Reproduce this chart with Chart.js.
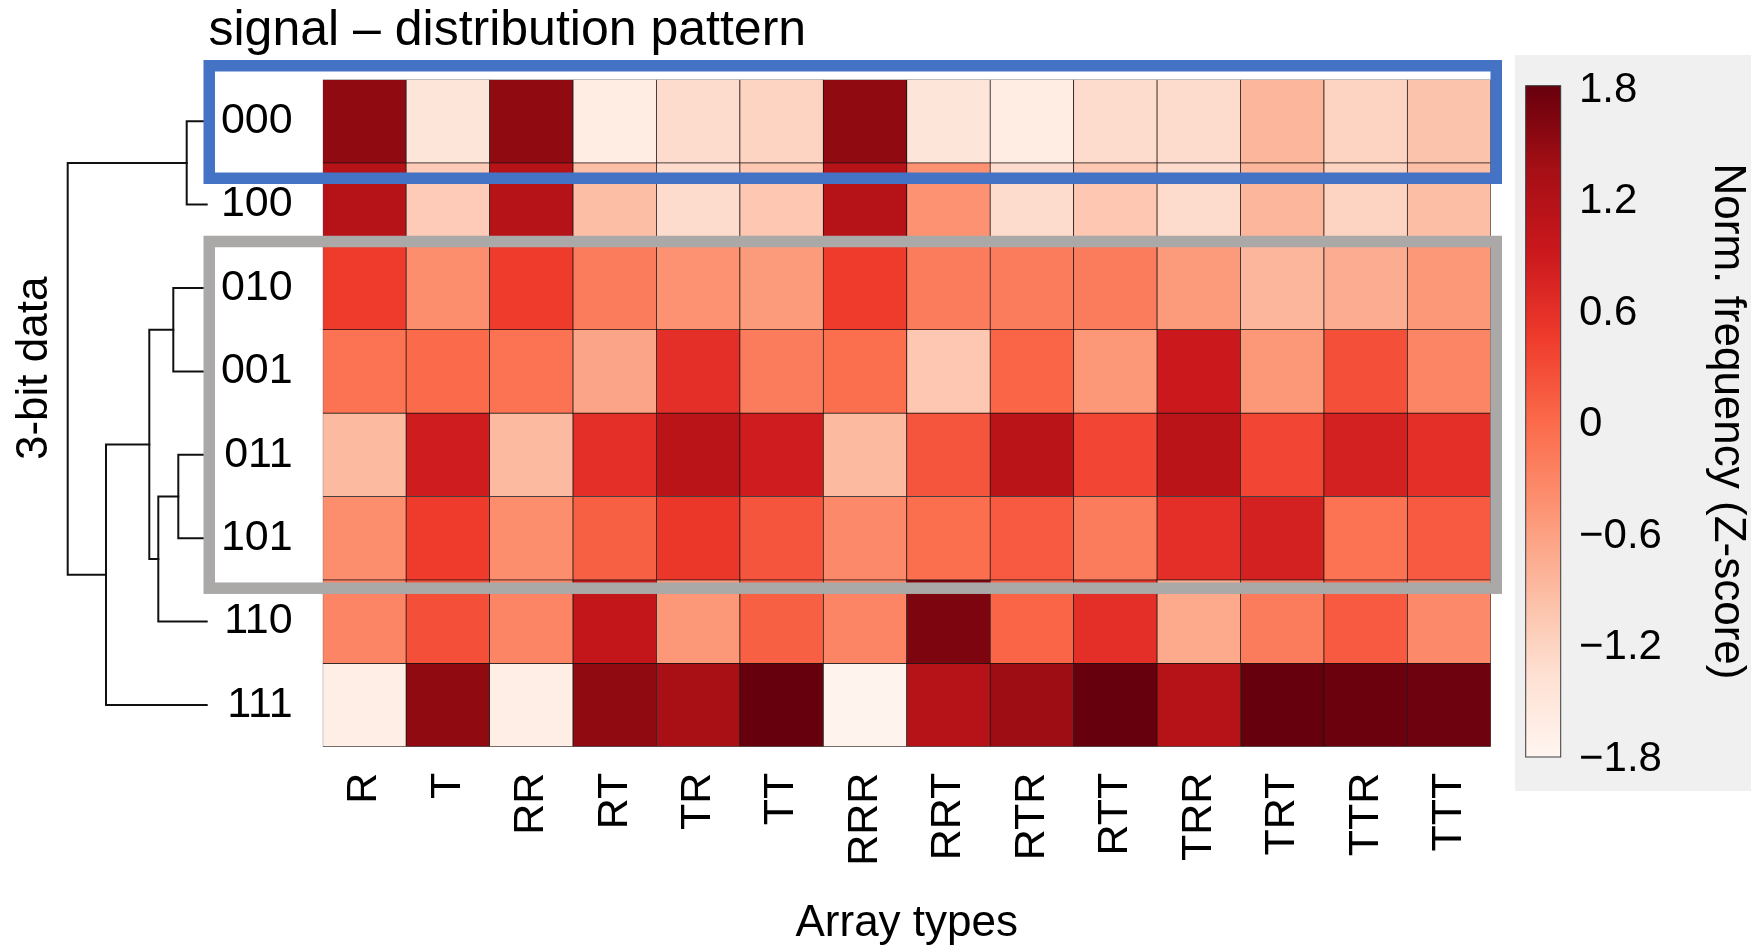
<!DOCTYPE html>
<html>
<head>
<meta charset="utf-8">
<title>signal – distribution pattern</title>
<script src="https://cdn.jsdelivr.net/npm/chart.js@4.4.1/dist/chart.umd.min.js"></script>
<style>
  html, body { margin: 0; padding: 0; background: #ffffff; }
  #wrap { position: relative; width: 1751px; height: 946px; }
</style>
</head>
<body>
<div id="wrap"><canvas id="heatmap"></canvas></div>
<script>
// Categories
const arrayTypes = ['R', 'T', 'RR', 'RT', 'TR', 'TT', 'RRR', 'RRT', 'RTR', 'RTT', 'TRR', 'TRT', 'TTR', 'TTT'];
const bitRows = ['000', '100', '010', '001', '011', '101', '110', '111'];

// Norm. frequency (Z-score), one array per 3-bit row, columns follow arrayTypes
const z000 = [1.5, -1.45, 1.5, -1.6, -1.3, -1.2, 1.5, -1.45, -1.6, -1.3, -1.3, -0.85, -1.2, -1.0];
const z100 = [1.15, -1.1, 1.15, -0.95, -1.3, -1.05, 1.15, -0.45, -1.3, -1.05, -1.3, -0.85, -1.2, -0.95];
const z010 = [0.45, -0.4, 0.45, -0.2, -0.45, -0.55, 0.45, -0.2, -0.2, -0.2, -0.55, -0.85, -0.75, -0.5];
const z001 = [-0.1, 0.0, -0.1, -0.65, 0.6, -0.2, -0.05, -1.05, 0.05, -0.5, 0.9, -0.5, 0.25, -0.3];
const z011 = [-0.9, 0.85, -0.9, 0.6, 1.1, 0.85, -0.9, 0.2, 1.1, 0.35, 1.1, 0.35, 0.8, 0.6];
const z101 = [-0.4, 0.45, -0.4, 0.1, 0.5, 0.2, -0.35, -0.05, 0.15, -0.2, 0.6, 0.8, -0.1, 0.15];
const z110 = [-0.3, 0.25, -0.3, 1.0, -0.5, 0.1, -0.3, 1.65, 0.05, 0.6, -0.7, -0.2, 0.15, -0.35];
const z111 = [-1.65, 1.5, -1.65, 1.5, 1.3, 1.8, -1.75, 1.15, 1.4, 1.8, 1.15, 1.8, 1.78, 1.75];
const zRows = [z000, z100, z010, z001, z011, z101, z110, z111];

// Row dendrogram, hclust style: negative = leaf (1-based row), positive = earlier merge
const mergeLeft = [-1, -5, -3, 2, 3, 5, 1];
const mergeRight = [-2, -6, -4, -7, 4, -8, 6];
const mergeHeight = [0.20, 0.284, 0.334, 0.484, 0.574, 1.007, 1.39];

// Colour bar ticks
const colorbarTicks = [1.8, 1.2, 0.6, 0, -0.6, -1.2, -1.8];

const FONT = '"Liberation Sans", Arial, Helvetica, sans-serif';
const Z_MIN = Math.min(...colorbarTicks);
const Z_MAX = Math.max(...colorbarTicks);

// ColorBrewer Reds
const REDS = ['#fff5f0', '#fee0d2', '#fcbba1', '#fc9272', '#fb6a4a', '#ef3b2c', '#cb181d', '#a50f15', '#67000d'];

function hexToRgb(hex) {
  const n = parseInt(hex.slice(1), 16);
  return [(n >> 16) & 255, (n >> 8) & 255, n & 255];
}

function zColor(v) {
  const t = Math.min(1, Math.max(0, (v - Z_MIN) / (Z_MAX - Z_MIN))) * (REDS.length - 1);
  const i = Math.min(REDS.length - 2, Math.floor(t));
  const f = t - i;
  const a = hexToRgb(REDS[i]);
  const b = hexToRgb(REDS[i + 1]);
  const c = a.map((x, k) => Math.round(x + (b[k] - x) * f));
  return 'rgb(' + c.join(',') + ')';
}

function fmtTick(v) {
  return v < 0 ? '\u2212' + Math.abs(v) : String(v);
}

// tree sits left of the row labels: leaf tips at x=206.7, 100px per unit of height
const DEND_TIP_X = 206.7;
const DEND_PX_PER_UNIT = 100;

// highlight frames drawn over the heatmap (rows are [first, end) indexes)
const highlightBoxes = [
  { rows: [0, 1], color: '#4472c4', padTop: 13.75, padBottom: 15.35 },
  { rows: [2, 6], color: '#aba8a8', padTop: 4.8, padBottom: 8.3 }
];

const decorations = {
  id: 'decorations',
  afterDatasetsDraw(chart) {
    const { ctx, chartArea } = chart;
    const yS = chart.scales.y;
    const hx = h => DEND_TIP_X - h * DEND_PX_PER_UNIT;

    // dendrogram
    const nodes = [];
    const nodeAt = id => id < 0 ? { y: yS.getPixelForValue(-id - 0.5), h: 0 } : nodes[id - 1];
    ctx.save();
    ctx.strokeStyle = '#111';
    ctx.lineWidth = 2;
    ctx.lineCap = 'square';
    mergeHeight.forEach((h, m) => {
      const a = nodeAt(mergeLeft[m]);
      const b = nodeAt(mergeRight[m]);
      const x = hx(h);
      ctx.beginPath();
      ctx.moveTo(hx(a.h), a.y);
      ctx.lineTo(x, a.y);
      ctx.lineTo(x, b.y);
      ctx.lineTo(hx(b.h), b.y);
      ctx.stroke();
      nodes.push({ y: (a.y + b.y) / 2, h: h });
    });

    // highlight frames
    ctx.lineWidth = 11.5;
    ctx.lineCap = 'butt';
    ctx.lineJoin = 'miter';
    highlightBoxes.forEach(bx => {
      const top = yS.getPixelForValue(bx.rows[0]) - bx.padTop;
      const bottom = yS.getPixelForValue(bx.rows[1]) + bx.padBottom;
      const left = 209.25;
      const right = chartArea.right + 5.45;
      ctx.strokeStyle = bx.color;
      ctx.strokeRect(left, top, right - left, bottom - top);
    });
    ctx.restore();
  },
  afterDraw(chart) {
    const { ctx } = chart;
    ctx.save();
    ctx.fillStyle = '#000';

    // title
    ctx.font = '50px ' + FONT;
    ctx.textAlign = 'left';
    ctx.textBaseline = 'alphabetic';
    ctx.fillText('signal \u2013 distribution pattern', 208.5, 45);

    // row axis title
    ctx.save();
    ctx.translate(35, 368.3);
    ctx.rotate(-Math.PI / 2);
    ctx.font = '44px ' + FONT;
    ctx.textAlign = 'center';
    ctx.textBaseline = 'middle';
    ctx.fillText('3-bit data', 0, 0);
    ctx.restore();

    // colour bar panel
    ctx.fillStyle = '#f0f0f0';
    ctx.fillRect(1515, 55, 236, 736);

    const barX = 1525.7, barW = 35, barTop = 85.7, barBottom = 757;
    const grad = ctx.createLinearGradient(0, barBottom, 0, barTop);
    REDS.forEach((c, i) => grad.addColorStop(i / (REDS.length - 1), c));
    ctx.fillStyle = grad;
    ctx.fillRect(barX, barTop, barW, barBottom - barTop);
    ctx.strokeStyle = '#3a3a3a';
    ctx.lineWidth = 1;
    ctx.strokeRect(barX, barTop, barW, barBottom - barTop);

    ctx.fillStyle = '#000';
    ctx.font = '42px ' + FONT;
    ctx.textAlign = 'left';
    ctx.textBaseline = 'middle';
    colorbarTicks.forEach(v => {
      const y = 90 + (Z_MAX - v) / (Z_MAX - Z_MIN) * 669;
      ctx.fillText(fmtTick(v), 1579, y);
    });

    ctx.translate(1727, 421.5);
    ctx.rotate(Math.PI / 2);
    ctx.font = '44px ' + FONT;
    ctx.textAlign = 'center';
    ctx.fillText('Norm. frequency (Z-score)', 0, 0);
    ctx.restore();
  }
};

Chart.defaults.font.family = FONT;
Chart.defaults.color = '#000';

const datasets = zRows.map((vals, r) => ({
  label: bitRows[r],
  data: vals.map(() => [r, r + 1]),
  backgroundColor: vals.map(zColor),
  borderColor: '#1e1414',
  borderWidth: 0.75,
  borderSkipped: false,
  barPercentage: 1,
  categoryPercentage: 1,
  grouped: false
}));

new Chart(document.getElementById('heatmap'), {
  type: 'bar',
  data: { labels: arrayTypes, datasets: datasets },
  options: {
    responsive: true,
    maintainAspectRatio: false,
    animation: false,
    layout: { padding: { top: 79.5, right: 260.2, bottom: 0, left: 0 } },
    plugins: {
      legend: { display: false },
      tooltip: { enabled: false }
    },
    scales: {
      x: {
        type: 'category',
        grid: { display: false, drawTicks: false },
        border: { display: false },
        ticks: {
          autoSkip: false,
          minRotation: 90,
          maxRotation: 90,
          padding: 26,
          font: { size: 43 }
        },
        title: {
          display: true,
          text: 'Array types',
          font: { size: 44, lineHeight: 1.0 },
          padding: 0
        },
        afterFit(scale) { scale.height = 199.3; }
      },
      y: {
        type: 'linear',
        min: 0,
        max: bitRows.length,
        reverse: true,
        grid: { display: false, drawTicks: false },
        border: { display: false },
        afterBuildTicks(scale) {
          scale.ticks = bitRows.map((_, i) => ({ value: i + 0.5 }));
        },
        ticks: {
          padding: 30,
          font: { size: 43 },
          callback: (v, i) => bitRows[i]
        },
        afterFit(scale) { scale.width = 322.7; }
      }
    }
  },
  plugins: [decorations]
});
</script>
</body>
</html>
